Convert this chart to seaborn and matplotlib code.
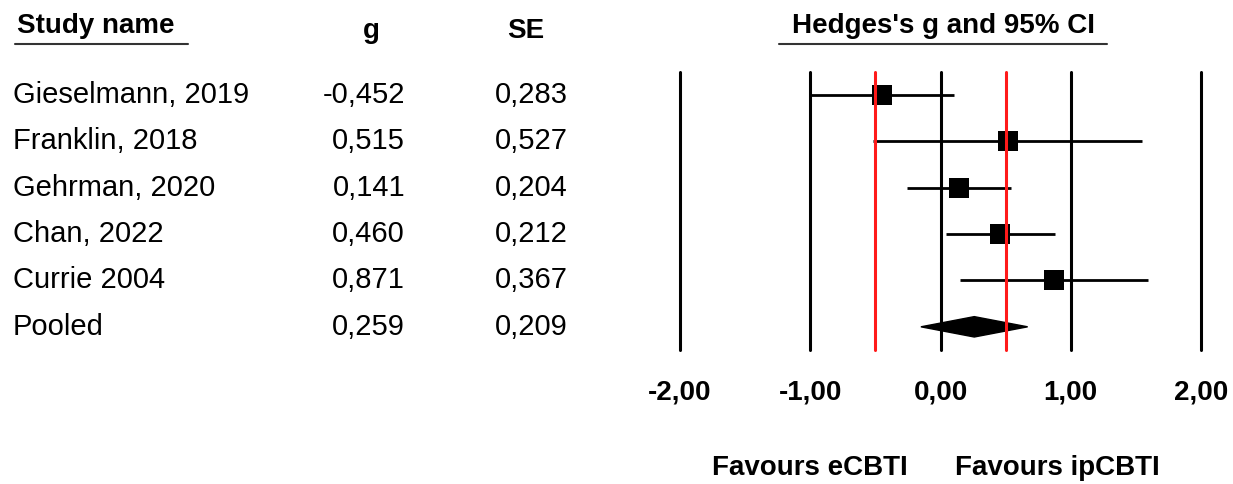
import numpy as np
import pandas as pd
import matplotlib.pyplot as plt
import matplotlib.transforms as mtransforms
from matplotlib.lines import Line2D
from matplotlib.patches import Polygon
import seaborn as sns

# data
studies = ["Gieselmann, 2019", "Franklin, 2018", "Gehrman, 2020", "Chan, 2022", "Currie 2004"]
g_vals = [-0.452, 0.515, 0.141, 0.460, 0.871]
se_vals = [0.283, 0.527, 0.204, 0.212, 0.367]
pooled_name = "Pooled"
pooled_g = 0.259
pooled_se = 0.209
ref_lines = [-0.5, 0.5]
x_ticks = [-2, -1, 0, 1, 2]
x_ticklabels = ["-2,00", "-1,00", "0,00", "1,00", "2,00"]

df = pd.DataFrame({"study": studies, "g": g_vals, "se": se_vals})
df["row"] = np.arange(len(df))
df["lo"] = df["g"] - 1.96 * df["se"]
df["hi"] = df["g"] + 1.96 * df["se"]
pooled_row = len(df)
pooled_lo = pooled_g - 1.96 * pooled_se
pooled_hi = pooled_g + 1.96 * pooled_se

sns.set_style("white")
plt.rcParams['font.family'] = ['Liberation Sans', 'DejaVu Sans']
plt.rcParams['text.color'] = 'black'
plt.rcParams['xtick.color'] = 'black'
plt.rcParams['xtick.labelcolor'] = 'black'

fig = plt.figure(figsize=(12.33, 4.84), dpi=100)
ax = fig.add_axes([0.5515, 0.2769, 0.4226, 0.5744])

# grid lines at the ticks
for t in x_ticks:
    ax.axvline(t, color="black", lw=2.2, clip_on=False, zorder=1)
for r in ref_lines:
    ax.axvline(r, color="#ff1a1a", lw=2.2, clip_on=False, zorder=4)

# confidence intervals and point estimates
ax.hlines(df["row"], df["lo"], df["hi"], color="black", lw=2.0, zorder=2)
sns.scatterplot(data=df, x="g", y="row", marker="s", s=190, color="black",
                linewidth=0, ax=ax, legend=False, zorder=3)

# pooled diamond
h = 0.22
diamond = Polygon([[pooled_lo, pooled_row], [pooled_g, pooled_row - h],
                   [pooled_hi, pooled_row], [pooled_g, pooled_row + h]],
                  closed=True, facecolor="black", edgecolor="black", zorder=3)
ax.add_patch(diamond)

ax.set_xlim(-2, 2)
ax.set_ylim(len(df) + 0.5, -0.5)
ax.set_xticks(x_ticks)
ax.set_xticklabels(x_ticklabels, fontsize=20, fontweight="bold", color="black")
ax.tick_params(axis="x", length=0, pad=21)
ax.set_yticks([])
ax.set_xlabel("")
ax.set_ylabel("")
for s in ax.spines.values():
    s.set_visible(False)

# table on the left
trans = mtransforms.blended_transform_factory(fig.transFigure, ax.transData)
names = studies + [pooled_name]
gs = g_vals + [pooled_g]
ses = se_vals + [pooled_se]
for i, (n, g, se) in enumerate(zip(names, gs, ses)):
    y = i + 0.17
    ax.text(0.0105, y, n, transform=trans, fontsize=21, ha="left", va="baseline", clip_on=False)
    ax.text(0.3285, y, f"{g:.3f}".replace(".", ","), transform=trans, fontsize=21,
            ha="right", va="baseline", clip_on=False)
    ax.text(0.4607, y, f"{se:.3f}".replace(".", ","), transform=trans, fontsize=21,
            ha="right", va="baseline", clip_on=False)

# headers
fig.text(0.0138, 0.932, "Study name", fontsize=20, fontweight="bold", ha="left", va="baseline")
fig.add_artist(Line2D([0.0122, 0.1525], [0.909, 0.909], color="#333333", lw=1.5))
fig.text(0.301, 0.9215, "g", fontsize=20, fontweight="bold", ha="center", va="baseline")
fig.text(0.426, 0.9215, "SE", fontsize=20, fontweight="bold", ha="center", va="baseline")
fig.text(0.7655, 0.932, "Hedges's g and 95% CI", fontsize=20, fontweight="bold", ha="center", va="baseline")
fig.add_artist(Line2D([0.632, 0.898], [0.909, 0.909], color="#333333", lw=1.5))

# favours labels
fig.text(0.5775, 0.0186, "Favours eCBTI", fontsize=20, fontweight="bold", ha="left", va="baseline")
fig.text(0.7745, 0.0186, "Favours ipCBTI", fontsize=20, fontweight="bold", ha="left", va="baseline")

fig.savefig("out.png", dpi=100)
